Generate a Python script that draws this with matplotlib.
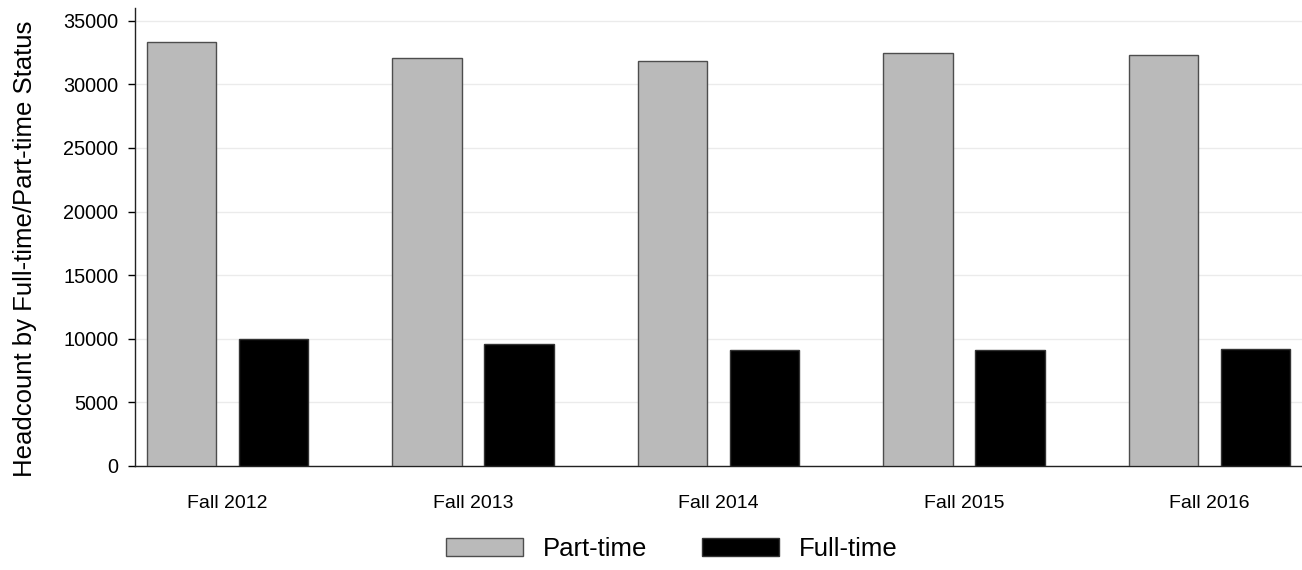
import numpy as np
import matplotlib
matplotlib.use("Agg")
import matplotlib.pyplot as plt

# --- Data ---
terms = ["Fall 2012", "Fall 2013", "Fall 2014", "Fall 2015", "Fall 2016"]
part_time = [33350, 32100, 31860, 32470, 32340]
full_time = [9960, 9570, 9120, 9120, 9200]

plt.rcParams["font.family"] = ["Liberation Sans", "DejaVu Sans"]

fig = plt.figure(figsize=(13.02, 5.70), dpi=100)
ax = fig.add_axes([0.1037, 0.1825, 0.8963, 0.8035])

x = np.arange(len(terms))
w = 0.283
off = 0.1873
ax.bar(x - off, part_time, width=w, color="#bababa", edgecolor="#4d4d4d",
       linewidth=1, label="Part-time", zorder=3)
ax.bar(x + off, full_time, width=w, color="black", edgecolor="#333333",
       linewidth=1, label="Full-time", zorder=3)

# --- Axes styling ---
ax.set_xlim(-0.376, 4.376)
ax.set_ylim(0, 36000)
ax.set_yticks(np.arange(0, 35001, 5000))
ax.set_xticks(x)
ax.set_xticklabels(terms, fontsize=14)
ax.tick_params(axis="x", length=0, pad=21)
ax.tick_params(axis="y", length=5.3, width=1, labelsize=14.3, pad=6.8)
ax.yaxis.grid(True, color="#ebebeb", linewidth=1, zorder=0)
ax.set_axisbelow(True)
for s in ["top", "right"]:
    ax.spines[s].set_visible(False)
for s in ["left", "bottom"]:
    ax.spines[s].set_color("#222222")
    ax.spines[s].set_linewidth(1)
ax.set_ylabel("Headcount by Full-time/Part-time Status", fontsize=18.5)
ax.yaxis.set_label_coords(-0.0836, 0.474)

fig.legend(loc="center", bbox_to_anchor=(0.516, 0.036), ncol=2, frameon=False,
           fontsize=18.5, handlelength=3.0, handleheight=0.7, handletextpad=0.8,
           columnspacing=2.1, borderpad=0)

plt.savefig("out.png", dpi=100)
plt.close()
